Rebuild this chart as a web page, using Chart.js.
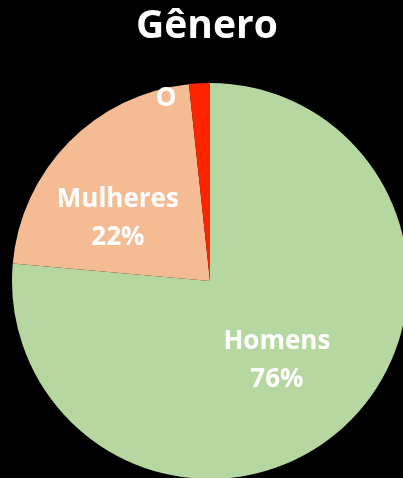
<!DOCTYPE html>
<html>
<head>
<meta charset="utf-8">
<script src="https://cdn.jsdelivr.net/npm/chart.js@4/dist/chart.umd.min.js"></script>
<style>
  html, body { margin: 0; padding: 0; background: #000; width: 403px; height: 478px; overflow: hidden; }
  #title { position: absolute; left: 0; width: 414px; top: -1px; text-align: center; color: #fff;
           font-family: "Open Sans", sans-serif; font-weight: bold; font-size: 39px; line-height: 48px; }
  #wrap { position: absolute; left: 0; top: 0; width: 420px; height: 480px; }
</style>
</head>
<body>
<div id="wrap"><canvas id="c"></canvas></div>
<div id="title">Gênero</div>
<script>
const categories = ["Homens", "Mulheres", "Outros"];
const values = [76.4, 21.9, 1.7];
const labelTexts = [["Homens", "76%"], ["Mulheres", "22%"], ["O"]];
const colors = ["#b6d7a0", "#f5bc93", "#ff2400"];

const labelRadius = [0.5, 0.56, 0.93];
const labelShift = [[0, 7], [-13, 15], [-34, 1]];

const labelPlugin = {
  id: 'sliceLabels',
  afterDatasetsDraw(chart) {
    const ctx = chart.ctx;
    const meta = chart.getDatasetMeta(0);
    ctx.save();
    ctx.fillStyle = '#fff';
    ctx.font = 'bold 26px "Open Sans", sans-serif';
    ctx.textAlign = 'center';
    ctx.textBaseline = 'middle';
    meta.data.forEach((arc, i) => {
      const p = arc.getProps(['x', 'y', 'startAngle', 'endAngle', 'outerRadius'], true);
      const mid = (p.startAngle + p.endAngle) / 2;
      const r = p.outerRadius * labelRadius[i];
      const cx = p.x + Math.cos(mid) * r + labelShift[i][0];
      const cy = p.y + Math.sin(mid) * r + labelShift[i][1];
      const lines = labelTexts[i];
      const lh = 38;
      lines.forEach((t, k) => {
        ctx.fillText(t, cx, cy + (k - (lines.length - 1) / 2) * lh);
      });
    });
    ctx.restore();
  }
};

new Chart(document.getElementById('c'), {
  type: 'pie',
  data: {
    labels: categories,
    datasets: [{ data: values, backgroundColor: colors, borderWidth: 0 }]
  },
  options: {
    responsive: true,
    maintainAspectRatio: false,
    animation: false,
    layout: { padding: { left: 12, right: 12, top: 83, bottom: 1 } },
    plugins: { legend: { display: false }, tooltip: { enabled: false }, title: { display: false } }
  },
  plugins: [labelPlugin]
});
</script>
</body>
</html>
